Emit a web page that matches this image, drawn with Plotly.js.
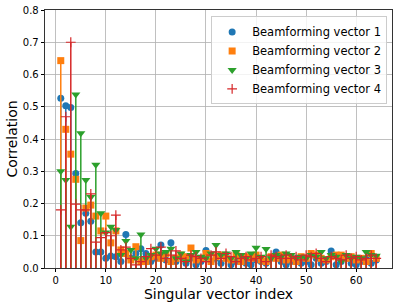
<!DOCTYPE html>
<html>
<head>
<meta charset="utf-8">
<script src="https://cdn.plot.ly/plotly-3.0.1.min.js"></script>
<style>html,body{margin:0;padding:0;background:#fff;}#chart{width:399px;height:308px;}</style>
</head>
<body>
<div id="chart"></div>
<script>
const indices = Array.from({length: 64}, (_, k) => k + 1);
const seriesNames = ["Beamforming vector 1", "Beamforming vector 2", "Beamforming vector 3", "Beamforming vector 4"];
const vec1 = [0.526,0.503,0.498,0.293,0.14,0.17,0.145,0.05,0.05,0.03,0.037,0.035,0.02,0.104,0.03,0.045,0.06,0.045,0.02,0.03,0.071,0.025,0.078,0.02,0.035,0.015,0.03,0.01,0.02,0.054,0.02,0.03,0.015,0.04,0.01,0.02,0.03,0.015,0.01,0.025,0.02,0.015,0.03,0.05,0.02,0.01,0.02,0.03,0.015,0.02,0.01,0.03,0.015,0.02,0.053,0.01,0.02,0.03,0.015,0.01,0.02,0.03,0.015,0.025];
const vec2 = [0.643,0.43,0.353,0.275,0.085,0.186,0.195,0.161,0.115,0.161,0.078,0.115,0.056,0.045,0.025,0.066,0.02,0.02,0.035,0.04,0.03,0.045,0.02,0.03,0.04,0.035,0.062,0.025,0.03,0.045,0.02,0.035,0.04,0.03,0.025,0.04,0.02,0.035,0.03,0.04,0.025,0.02,0.035,0.03,0.04,0.025,0.03,0.02,0.035,0.03,0.045,0.04,0.03,0.025,0.035,0.04,0.04,0.03,0.035,0.025,0.03,0.02,0.045,0.03];
const vec3 = [0.30,0.273,0.128,0.538,0.418,0.273,0.22,0.32,0.17,0.11,0.128,0.118,0.04,0.084,0.056,0.03,0.104,0.03,0.04,0.06,0.045,0.05,0.06,0.03,0.045,0.02,0.04,0.05,0.035,0.03,0.045,0.071,0.04,0.045,0.03,0.05,0.04,0.03,0.045,0.063,0.035,0.059,0.03,0.04,0.035,0.045,0.04,0.03,0.035,0.03,0.04,0.035,0.05,0.03,0.04,0.035,0.02,0.04,0.03,0.035,0.03,0.05,0.04,0.038];
const vec4 = [0.18,0.469,0.70,0.198,0.18,0.18,0.23,0.08,0.094,0.11,0.10,0.164,0.056,0.065,0.03,0.01,0.02,0.035,0.06,0.04,0.065,0.03,0.04,0.053,0.03,0.02,0.04,0.035,0.03,0.02,0.04,0.05,0.03,0.045,0.035,0.02,0.03,0.035,0.025,0.03,0.035,0.02,0.04,0.035,0.03,0.04,0.03,0.035,0.025,0.04,0.035,0.045,0.03,0.02,0.035,0.03,0.025,0.04,0.03,0.035,0.025,0.03,0.04,0.03];
const yTicks = [0.0,0.1,0.2,0.3,0.4,0.5,0.6,0.7,0.8];
const xTicks = [0,10,20,30,40,50,60];

const allSeries = [vec1, vec2, vec3, vec4];
const colors = ["#1f77b4", "#ff7f0e", "#2ca02c", "#d62728"];
const symbols = ["circle", "square", "triangle-down", "cross-thin"];
const sizes = [7, 7, 8, 7];

const traces = [];
allSeries.forEach((vals, s) => {
  const sx = [], sy = [];
  indices.forEach((x, k) => { sx.push(x, x, null); sy.push(0, vals[k], null); });
  traces.push({x: sx, y: sy, type: "scatter", mode: "lines", line: {color: colors[s], width: 1.5},
    showlegend: false, hoverinfo: "skip", cliponaxis: true});
  const m = {symbol: symbols[s], size: sizes[s], color: colors[s]};
  if (symbols[s] === "cross-thin") m.line = {color: colors[s], width: 1.2};
  traces.push({x: indices, y: vals, type: "scatter", mode: "markers", name: seriesNames[s], marker: m, cliponaxis: true});
});

const layout = {
  width: 399, height: 308,
  margin: {l: 45, r: 7, t: 10, b: 40},
  paper_bgcolor: "#fff", plot_bgcolor: "#fff",
  font: {family: "DejaVu Sans", color: "#000", size: 10},
  xaxis: {range: [-2.15, 67.15], tickvals: xTicks, ticktext: xTicks.map(String),
    showgrid: true, gridcolor: "#b0b0b0", gridwidth: 0.8, zeroline: false,
    showline: true, mirror: true, linecolor: "#000", linewidth: 0.8,
    ticks: "outside", ticklen: 3.5, tickcolor: "#000", tickfont: {size: 10},
    title: {text: "Singular vector index", font: {size: 14}, standoff: 3}},
  yaxis: {range: [0, 0.8], tickvals: yTicks, ticktext: yTicks.map(v => v.toFixed(1)),
    showgrid: true, gridcolor: "#b0b0b0", gridwidth: 0.8, zeroline: false,
    showline: true, mirror: true, linecolor: "#000", linewidth: 0.8,
    ticks: "outside", ticklen: 3.5, tickcolor: "#000", tickfont: {size: 10},
    title: {text: "Correlation", font: {size: 14}, standoff: 1}},
  legend: {x: 0.986, y: 0.975, xanchor: "right", yanchor: "top",
    bgcolor: "rgba(255,255,255,0.8)", bordercolor: "#cccccc", borderwidth: 1,
    font: {size: 11.5}, tracegroupgap: 0, itemwidth: 30},
  showlegend: true
};
Plotly.newPlot("chart", traces, layout, {displayModeBar: false, staticPlot: true});
</script>
</body>
</html>
